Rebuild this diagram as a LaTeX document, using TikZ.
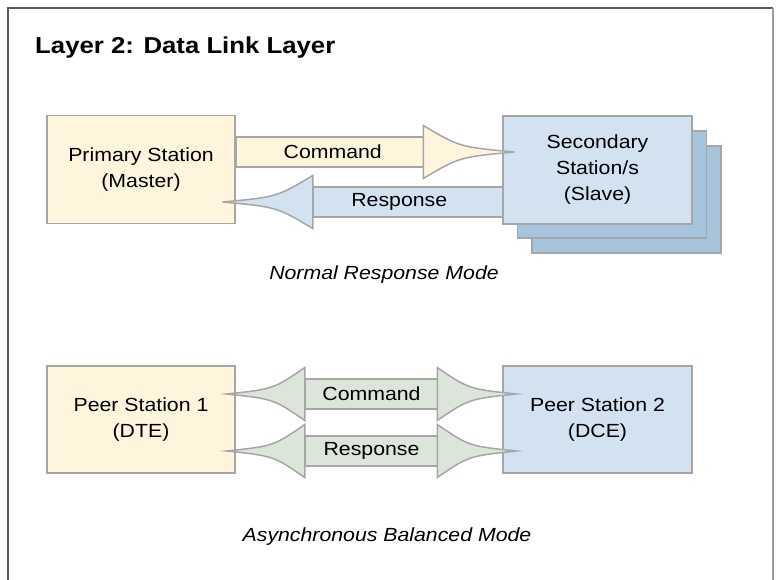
\documentclass[tikz,border=0pt]{standalone}
\usepackage{fontspec}
\setmainfont{Liberation Sans}[FakeStretch=1.12]
\usetikzlibrary{calc}

\definecolor{cream}{HTML}{FFF5DD}
\definecolor{paleblue}{HTML}{D3E2F0}
\definecolor{deepblue}{HTML}{A6C5DD}
\definecolor{sage}{HTML}{DCE5DA}
\definecolor{edge}{HTML}{A6A6A6}
\definecolor{framedark}{HTML}{5A5A5A}
\definecolor{framelight}{HTML}{9C9C9C}

% block arrow heads with concave sides: tip coordinate, length, fill
\newcommand\headright[3]{%
  \filldraw[blk, fill=#3] ($(#1)+(-#2,-26.5)$)
    .. controls ($(#1)+({-0.6*#2},-5)$) .. (#1)
    .. controls ($(#1)+({-0.6*#2},5)$) .. ($(#1)+(-#2,26.5)$) -- cycle;}
\newcommand\headleft[3]{%
  \filldraw[blk, fill=#3] ($(#1)+(#2,-26.5)$)
    .. controls ($(#1)+({0.6*#2},-5)$) .. (#1)
    .. controls ($(#1)+({0.6*#2},5)$) .. ($(#1)+(#2,26.5)$) -- cycle;}

\begin{document}
\begin{tikzpicture}[x=1pt,y=-1pt,
  box/.style={draw=edge, line width=1.5pt, minimum width=188pt, minimum height=107pt,
    inner sep=0pt, align=center, font=\fontsize{19}{26}\selectfont},
  blk/.style={draw=edge, line width=1.5pt, line join=miter},
  lbl/.style={font=\fontsize{19}{23}\selectfont, inner sep=0pt},
  caption/.style={font=\fontsize{19}{23}\selectfont\itshape, inner sep=0pt}]

\useasboundingbox (0,0) rectangle (776,579);

% outer frame (open at the bottom)
\draw[line width=1.5pt, framedark] (8,590) -- (8,8) -- (773,8);
\draw[line width=1.5pt, framelight] (773,8) -- (773,590);

\node[anchor=base west, inner sep=0pt, font=\fontsize{23}{28}\selectfont\bfseries]
  (title) at (35,53) {Layer 2: Data Link Layer};

% ---------- Normal Response Mode ----------
\node[box, fill=deepblue, minimum width=189pt] (secC) at (626.5,199.5) {};
\node[box, fill=deepblue, minimum width=189pt] (secB) at (612,184.5) {};
\node[box, fill=paleblue, minimum width=189pt, minimum height=108pt]
  (sec) at (597.5,170) {Secondary\\Station/s\\(Slave)};
\node[box, fill=cream, minimum height=108pt] (prim) at (141,169.5) {Primary Station\\(Master)};

% command: primary -> secondary
\coordinate (cmdA) at ($(prim.east)+(0,-17.5)$);
\coordinate (cmdB) at ($(sec.west)+(12,-18)$);
\filldraw[blk, fill=cream] ($(cmdA)+(0,-15)$) rectangle ($(cmdB)+(-91,15)$);
\headright{cmdB}{91}{cream}
\node[lbl] (cmdlbl) at ($(cmdA)+(97,0)$) {Command};

% response: secondary -> primary
\coordinate (rspA) at ($(sec.west)+(0,32)$);
\coordinate (rspB) at ($(prim.east)+(-13,32.5)$);
\filldraw[blk, fill=paleblue] ($(rspA)+(0,-15)$) rectangle ($(rspB)+(90,15)$);
\headleft{rspB}{90}{paleblue}
\node[lbl] (rsplbl) at ($(rspA)+(-103,0)$) {Response};

\node[caption] (nrm) at (384,275) {Normal Response Mode};

% ---------- Asynchronous Balanced Mode ----------
\node[box, fill=cream] (peerA) at (141,419.5) {Peer Station 1\\(DTE)};
\node[box, fill=paleblue, minimum width=189pt] (peerB) at (597.5,419.5) {Peer Station 2\\(DCE)};

% command: two-way
\coordinate (c2L) at ($(peerA.east)+(-9,-25.5)$);
\coordinate (c2R) at ($(peerB.west)+(14,-25.5)$);
\filldraw[blk, fill=sage] ($(c2L)+(78,-15)$) rectangle ($(c2R)+(-79,15)$);
\headleft{c2L}{78}{sage}
\headright{c2R}{79}{sage}
\node[lbl] (c2lbl) at ($(c2L)!0.5!(c2R)$) {Command};

% response: two-way
\coordinate (r2L) at ($(peerA.east)+(-9,31.5)$);
\coordinate (r2R) at ($(peerB.west)+(14,31.5)$);
\filldraw[blk, fill=sage] ($(r2L)+(78,-15)$) rectangle ($(r2R)+(-79,15)$);
\headleft{r2L}{78}{sage}
\headright{r2R}{79}{sage}
\node[lbl] (r2lbl) at ($(r2L)!0.5!(r2R)$) {Response};

\node[caption] (abm) at (387,537) {Asynchronous Balanced Mode};

\end{tikzpicture}
\end{document}
